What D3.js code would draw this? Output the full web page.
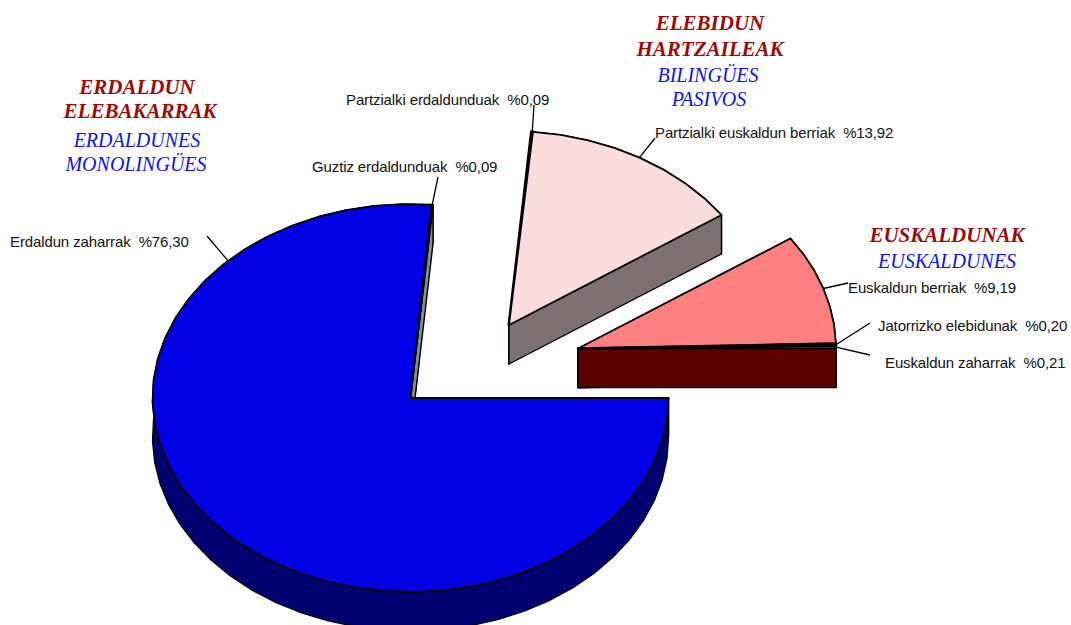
<!DOCTYPE html>
<html><head><meta charset="utf-8">
<script src="https://cdn.jsdelivr.net/npm/d3@7"></script>
<style>
html,body{margin:0;padding:0;background:#fff;overflow:hidden}
svg{display:block}
text{white-space:pre}
.lab{font-family:"Liberation Sans",Arial,sans-serif;font-size:15px;letter-spacing:-0.12px;fill:#111}
.ti{font-family:"Liberation Serif","Times New Roman",serif;font-style:italic;text-anchor:middle}
.eu{font-weight:bold;font-size:21px;fill:#990a0a}
.es{font-size:20px;fill:#0a14e6}
</style></head><body>
<svg id="c" width="1071" height="625"></svg>
<script>
// ---- data ----
const sliceNames = ["Erdaldun zaharrak","Guztiz erdaldunduak","Partzialki erdaldunduak","Partzialki euskaldun berriak","Euskaldun berriak","Jatorrizko elebidunak","Euskaldun zaharrak"];
const sliceValues = [76.30,0.09,0.09,13.92,9.19,0.20,0.21];
const valueLabels = ["%76,30","%0,09","%0,09","%13,92","%9,19","%0,20","%0,21"];
const sliceGroups = [0,0,1,1,2,2,2];
const titleBasque = [["ERDALDUN","ELEBAKARRAK"],["ELEBIDUN","HARTZAILEAK"],["EUSKALDUNAK"]];
const titleSpanish = [["ERDALDUNES","MONOLINGÜES"],["BILINGÜES","PASIVOS"],["EUSKALDUNES"]];

// ---- layout and style ----
const groupCentres = [[410.5,398],[509,325],[578,348.5]];
const rx = 258, ry = 194, depth = 39;
const topFill = ["#0000e4","#7f8c9c","#000000","#fbdddd","#ff8080","#000000","#c00000"];
const sideFill = ["#000070","#7f8c9c","#000000","#7f7070","#7f7070","#5c0000","#5c0000"];
const topStroke = [1.8,1.8,3,1.8,1.8,2.5,1.5];
const labelPos = [[10,247],[312,172],[346,105],[655,138],[848,293],[878,331],[885,368]];
const leaderEnd = [[207,236],[438,177],[534,105],[655,138],[848,283],[870,323],[870,355]];
const leaderDeg = [315,null,null,null,null,null,null];
const titlePos = [
  {eu:[[137,94],[140,118]],es:[[137,147],[136,171]]},
  {eu:[[710,30],[710,56]],es:[[708,82],[709,106]]},
  {eu:[[947,242]],es:[[947,268]]}];

const svg = d3.select("#c");
const arcs = d3.pie().sort(null).startAngle(Math.PI/2).endAngle(Math.PI/2+2*Math.PI)(sliceValues);
const sx = d3.scaleLinear().domain([-1,1]).range([-rx,rx]);
const sy = d3.scaleLinear().domain([-1,1]).range([-ry,ry]);
const pt = (a,c,d=0)=>[c[0]+sx(Math.sin(a)), c[1]+sy(-Math.cos(a))+d];
const step = 6.5*Math.PI/180;
function rim(s,e,c,d=0){
  const n = Math.max(1,Math.ceil((e-s)/step));
  return d3.range(n+1).map(i=>pt(s+(e-s)*i/n,c,d));
}
const line = d3.line();
const draw = (pts,fill,w=1.5)=>svg.append("path").attr("d",line(pts)+"Z")
  .attr("fill",fill).attr("stroke","#000").attr("stroke-width",w).attr("stroke-linejoin","round");

// side walls, then top faces
[0,1,2].forEach(g=>{
  const c = groupCentres[g];
  const items = arcs.map((a,i)=>({a,i})).filter(o=>sliceGroups[o.i]===g);
  items.forEach(({a,i})=>{
    const r = rim(a.startAngle,a.endAngle,c);
    const rb = rim(a.startAngle,a.endAngle,c,depth).reverse();
    draw(r.concat(rb),sideFill[i],1.4);
    const cb = [c[0],c[1]+depth];
    draw([c,pt(a.startAngle,c),pt(a.startAngle,c,depth),cb],sideFill[i],1.4);
    draw([c,pt(a.endAngle,c),pt(a.endAngle,c,depth),cb],sideFill[i],1.4);
  });
  items.forEach(({a,i})=>{
    draw([c].concat(rim(a.startAngle,a.endAngle,c)),topFill[i],topStroke[i]);
  });
});

// leaders
arcs.forEach((a,i)=>{
  const c = groupCentres[sliceGroups[i]];
  const ang = leaderDeg[i]!==null ? leaderDeg[i]*Math.PI/180 : (a.startAngle+a.endAngle)/2;
  svg.append("path").attr("d",line([pt(ang,c),leaderEnd[i]]))
    .attr("fill","none").attr("stroke","#000").attr("stroke-width",1.3);
});

// labels
sliceNames.forEach((n,i)=>{
  svg.append("text").attr("class","lab").attr("x",labelPos[i][0]).attr("y",labelPos[i][1])
    .text(n+"  "+valueLabels[i]);
});

// group titles
titlePos.forEach((p,g)=>{
  titleBasque[g].forEach((t,j)=>svg.append("text").attr("class","ti eu").attr("x",p.eu[j][0]).attr("y",p.eu[j][1]).text(t));
  titleSpanish[g].forEach((t,j)=>svg.append("text").attr("class","ti es").attr("x",p.es[j][0]).attr("y",p.es[j][1]).text(t));
});
</script>
</body></html>
